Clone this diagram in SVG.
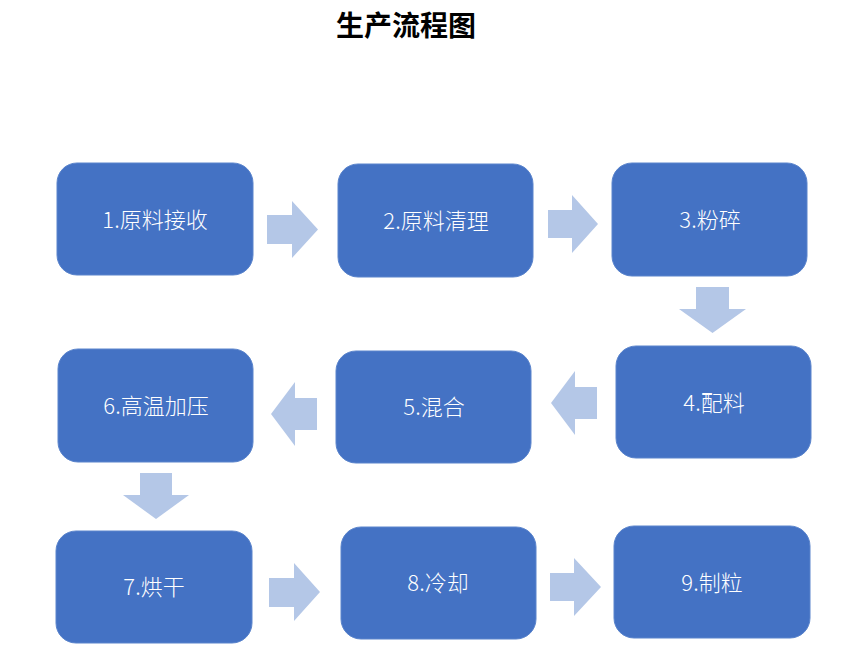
<svg xmlns="http://www.w3.org/2000/svg" width="845" height="667" viewBox="0 0 845 667">
<style>
.box{fill:#4472C4;stroke:#5A84CC;stroke-width:1}
.lbl{fill:#FFFFFF;font-family:"Noto Sans CJK SC","Noto Sans",sans-serif;font-size:22px;font-weight:300;text-anchor:middle;dominant-baseline:central}
.arr{fill:#B4C7E7}
.title{fill:#000000;font-family:"Liberation Serif","Noto Sans CJK SC",serif;font-size:28px;font-weight:bold;text-anchor:middle}
</style>
<rect width="845" height="667" fill="#FFFFFF"/>
<text class="title" x="406" y="36">生产流程图</text>
<g id="connectors">
<polygon class="arr" points="267,215 292,215 292,201 318,229.5 292,258 292,244 267,244"/>
<polygon class="arr" points="548,210 572,210 572,195 598,224 572,253 572,238 548,238"/>
<polygon class="arr" points="696,287 729,287 729,309 746,309 712.5,333 679,309 696,309"/>
<polygon class="arr" points="597,387 575,387 575,371 551,403 575,435 575,419 597,419"/>
<polygon class="arr" points="317,398 295,398 295,382 271,414 295,446 295,430 317,430"/>
<polygon class="arr" points="140,473 172,473 172,495 189,495 156,519 123,495 140,495"/>
<polygon class="arr" points="269,578 294,578 294,563 320,592 294,621 294,607 269,607"/>
<polygon class="arr" points="550,573 574,573 574,558 601,587 574,616 574,601 550,601"/>
</g>
<g id="node1"><rect class="box" x="57" y="163" width="196" height="112" rx="20"/><text class="lbl" x="155" y="218">1.原料接收</text></g>
<g id="node2"><rect class="box" x="338" y="164" width="195" height="113" rx="20"/><text class="lbl" x="436" y="219">2.原料清理</text></g>
<g id="node3"><rect class="box" x="612" y="163" width="195" height="113" rx="20"/><text class="lbl" x="710" y="218">3.粉碎</text></g>
<g id="node4"><rect class="box" x="616" y="346" width="195" height="112" rx="20"/><text class="lbl" x="714" y="401">4.配料</text></g>
<g id="node5"><rect class="box" x="336" y="351" width="195" height="112" rx="20"/><text class="lbl" x="434" y="405">5.混合</text></g>
<g id="node6"><rect class="box" x="58" y="349" width="195" height="113" rx="20"/><text class="lbl" x="156" y="404">6.高温加压</text></g>
<g id="node7"><rect class="box" x="56" y="531" width="196" height="112" rx="20"/><text class="lbl" x="154" y="585">7.烘干</text></g>
<g id="node8"><rect class="box" x="341" y="527" width="195" height="112" rx="20"/><text class="lbl" x="438" y="581">8.冷却</text></g>
<g id="node9"><rect class="box" x="614" y="526" width="196" height="112" rx="20"/><text class="lbl" x="712" y="581">9.制粒</text></g>
</svg>
